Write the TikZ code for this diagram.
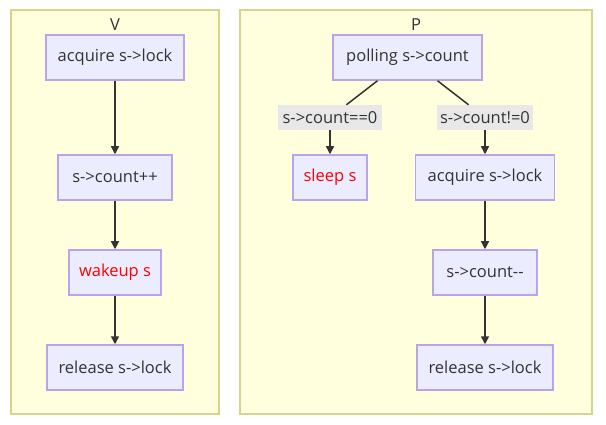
\documentclass[tikz,border=0pt]{standalone}
\usepackage{fontspec}
\setmainfont{Open Sans}
\usetikzlibrary{arrows.meta}
\definecolor{clfill}{HTML}{FFFFDE}
\definecolor{clline}{HTML}{D4D48A}
\definecolor{ndfill}{HTML}{ECECFF}
\definecolor{ndline}{HTML}{B9A3EA}
\definecolor{txt}{HTML}{333333}
\definecolor{lblbg}{HTML}{E8E8E8}
\tikzset{
  box/.style={draw=ndline, fill=ndfill, line width=1.5pt, inner sep=0pt, minimum height=45pt, text=txt, font=\fontsize{16.5}{19}\selectfont},
  elabel/.style={fill=lblbg, inner sep=0pt, minimum height=25pt, text=txt, font=\fontsize{16.5}{19}\selectfont},
  cluster/.style={draw=clline, fill=clfill, line width=1.5pt},
  ctitle/.style={text=txt, font=\fontsize{16.5}{19}\selectfont},
  conn/.style={draw=txt, line width=1.5pt},
  arr/.style={conn, -{Triangle[length=8pt,width=8pt]}},
  warn/.style={text=red}
}
\begin{document}
\begin{tikzpicture}[x=1pt,y=-1pt]
\useasboundingbox (0,0) rectangle (606,425);
\fill[white] (0,0) rectangle (606,425);
% clusters
\draw[cluster] (11,10) rectangle (219,414);
\draw[cluster] (240,10) rectangle (592,414);
\node[ctitle] (vt) at (115,25) {V};
\node[ctitle] (pt) at (416,25) {P};
% V nodes
\node[box, minimum width=138pt] (va) at (115,57.5) {acquire s->lock};
\node[box, minimum width=114pt] (vb) at (115,177.5) {s->count++};
\node[box, minimum width=92pt, warn] (vc) at (115,272.5) {wakeup s};
\node[box, minimum width=136pt] (vd) at (115,367.5) {release s->lock};
% P nodes
\node[box, minimum width=149pt] (pa) at (407.5,57.5) {polling s->count};
\node[elabel, minimum width=104pt] (l1) at (330,117.5) {s->count==0};
\node[elabel, minimum width=96pt] (l2) at (485,117.5) {s->count!=0};
\node[box, minimum width=74pt, warn] (ps) at (330,177.5) {sleep s};
\node[box, minimum width=139pt] (pb) at (485,177.5) {acquire s->lock};
\node[box, minimum width=104pt] (pc) at (485,272.5) {s->count-{}-};
\node[box, minimum width=136pt] (pd) at (485,367.5) {release s->lock};
% edges
\draw[arr] (va) -- (vb);
\draw[arr] (vb) -- (vc);
\draw[arr] (vc) -- (vd);
\draw[conn] (pa) -- (l1);
\draw[conn] (pa) -- (l2);
\draw[arr] (l1) -- (ps);
\draw[arr] (l2) -- (pb);
\draw[arr] (pb) -- (pc);
\draw[arr] (pc) -- (pd);
\end{tikzpicture}
\end{document}
